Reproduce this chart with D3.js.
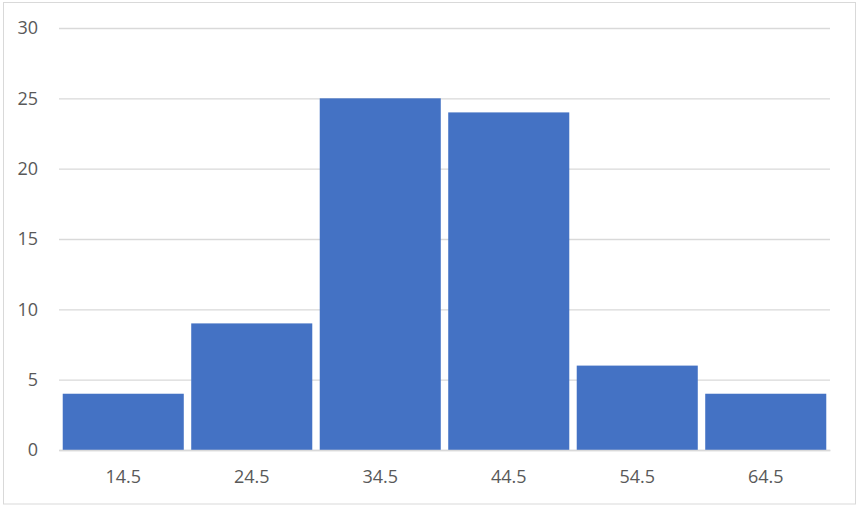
<!DOCTYPE html>
<html>
<head>
<meta charset="utf-8">
<script src="https://cdn.jsdelivr.net/npm/d3@7"></script>
<style>
  body { margin: 0; background: #fff; }
  svg { display: block; }
</style>
</head>
<body>
<svg id="chart" width="859" height="506"></svg>
<script>
const categories = ["14.5", "24.5", "34.5", "44.5", "54.5", "64.5"];
const values = [4, 9, 25, 24, 6, 4];
const yTicks = [0, 5, 10, 15, 20, 25, 30];

const svg = d3.select("#chart");
const W = 859, H = 506;
const margin = { top: 28, right: 29, bottom: 56, left: 59 };
const width = W - margin.left - margin.right;
const height = H - margin.top - margin.bottom;

// outer chart border
svg.append("rect")
  .attr("x", 3.5).attr("y", 2.5)
  .attr("width", 852).attr("height", 501.5)
  .attr("fill", "#fff")
  .attr("stroke", "#d9d9d9")
  .attr("stroke-width", 1);

const g = svg.append("g")
  .attr("transform", `translate(${margin.left},${margin.top})`);

const x = d3.scaleBand()
  .domain(categories)
  .range([0, width])
  .paddingInner(0.058)
  .paddingOuter(0.029);

const y = d3.scaleLinear()
  .domain([0, 30])
  .range([height, 0]);

// gridlines
g.append("g")
  .call(d3.axisLeft(y).tickValues(yTicks).tickSize(-width).tickFormat(""))
  .call(a => a.select(".domain").remove())
  .selectAll("line")
  .attr("stroke", "#d9d9d9")
  .attr("stroke-width", 1.3);

// y labels
g.append("g")
  .call(d3.axisLeft(y).tickValues(yTicks).tickSize(0).tickPadding(21))
  .call(a => a.select(".domain").remove())
  .selectAll("text")
  .style("font-family", "'Open Sans', sans-serif")
  .style("font-size", "18px")
  .attr("fill", "#595959");

// bars
g.selectAll(".bar")
  .data(values)
  .enter()
  .append("rect")
  .attr("class", "bar")
  .attr("x", (d, i) => x(categories[i]))
  .attr("y", d => y(d))
  .attr("width", x.bandwidth())
  .attr("height", d => height - y(d))
  .attr("fill", "#4472c4");

// x axis
g.append("g")
  .attr("transform", `translate(0,${height})`)
  .call(d3.axisBottom(x).tickSize(0).tickPadding(20))
  .call(a => a.select(".domain").attr("stroke", "#d9d9d9").attr("stroke-width", 1.3))
  .selectAll("text")
  .style("font-family", "'Open Sans', sans-serif")
  .style("font-size", "18px")
  .attr("fill", "#595959");
</script>
</body>
</html>
